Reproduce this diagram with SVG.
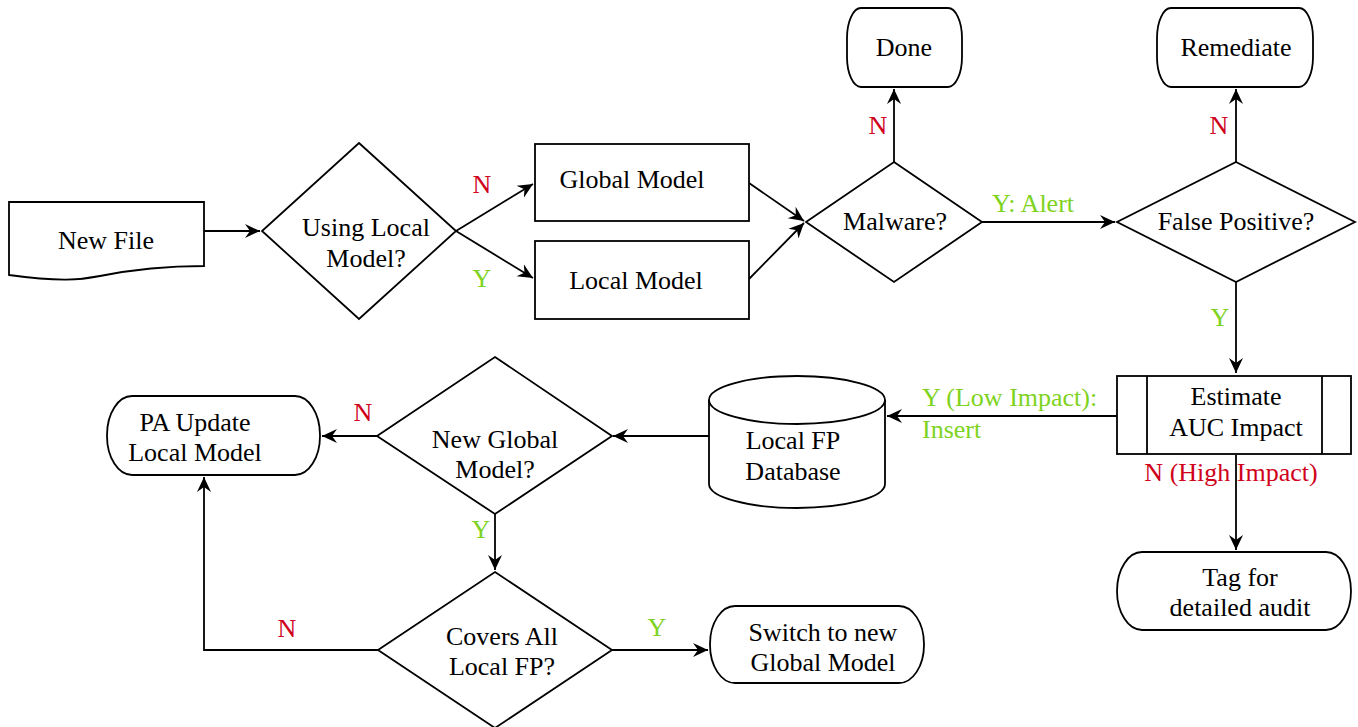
<svg xmlns="http://www.w3.org/2000/svg" width="1358" height="727" viewBox="0 0 1358 727">
<defs>
<style>
.s{fill:#fff;stroke:#000;stroke-width:1.8}
.c{fill:none;stroke:#000;stroke-width:1.8}
text{font-family:'Liberation Serif','Times New Roman',serif;font-size:26px;fill:#000;text-anchor:middle}
.r{fill:#d0021b}
.g{fill:#7ed321}
.l{text-anchor:start}
</style>
<marker id="a" viewBox="-15 -8 16 16" refX="0" refY="0" markerWidth="16" markerHeight="16" markerUnits="userSpaceOnUse" orient="auto">
<path d="M0,0 L-15,-7 L-10,0 L-15,7 Z" fill="#000"/>
</marker>
</defs>
<rect width="1358" height="727" fill="#fff"/>
<g id="connectors">
<path class="c" d="M204,231 H260" marker-end="url(#a)"/>
<path class="c" d="M456,231 L533,184" marker-end="url(#a)"/>
<path class="c" d="M456,231 L533,278" marker-end="url(#a)"/>
<path class="c" d="M749,183 L804,221" marker-end="url(#a)"/>
<path class="c" d="M749,279 L804,223" marker-end="url(#a)"/>
<path class="c" d="M894,162 V89" marker-end="url(#a)"/>
<path class="c" d="M982,222 H1115" marker-end="url(#a)"/>
<path class="c" d="M1236,162 V89" marker-end="url(#a)"/>
<path class="c" d="M1236,282 V373" marker-end="url(#a)"/>
<path class="c" d="M1236,455 V550" marker-end="url(#a)"/>
<path class="c" d="M1117,416 H887" marker-end="url(#a)"/>
<path class="c" d="M709,436 H613" marker-end="url(#a)"/>
<path class="c" d="M377,436 H322" marker-end="url(#a)"/>
<path class="c" d="M495,514 V570" marker-end="url(#a)"/>
<path class="c" d="M612,650 H708" marker-end="url(#a)"/>
<path class="c" d="M378,650 H204 V477" marker-end="url(#a)"/>
<text class="r" x="482" y="193">N</text>
<text class="g" x="482" y="287">Y</text>
<text class="r" x="878" y="134">N</text>
<text class="g" x="1033" y="212">Y: Alert</text>
<text class="r" x="1219" y="134">N</text>
<text class="g" x="1220" y="326">Y</text>
<text class="r" x="1231" y="481">N (High Impact)</text>
<text class="g l" x="922" y="406">Y (Low Impact):</text>
<text class="g l" x="922" y="438">Insert</text>
<text class="r" x="363" y="421">N</text>
<text class="g" x="481" y="538">Y</text>
<text class="r" x="287" y="637">N</text>
<text class="g" x="657" y="636">Y</text>
</g>
<g id="newfile">
<path class="s" d="M9,202 H204 V266 C160,266 130,270 100,276 C80,280 60,282 9,275 Z"/>
<text x="106" y="249">New File</text>
</g>
<g id="usinglocal">
<path class="s" d="M359,143 L456,231 L359,319 L262,231 Z"/>
<text x="366" y="236">Using Local</text>
<text x="366" y="267">Model?</text>
</g>
<g id="globalmodel">
<rect class="s" x="535" y="144" width="214" height="77"/>
<text x="632" y="188">Global Model</text>
</g>
<g id="localmodel">
<rect class="s" x="535" y="241" width="214" height="78"/>
<text x="636" y="289">Local Model</text>
</g>
<g id="malware">
<path class="s" d="M894,162 L982,222 L894,282 L806,222 Z"/>
<text x="895" y="230">Malware?</text>
</g>
<g id="done">
<rect class="s" x="847" y="8" width="115" height="79" rx="14" ry="30"/>
<text x="904" y="56">Done</text>
</g>
<g id="falsepositive">
<path class="s" d="M1236,162 L1355,222 L1236,282 L1117,222 Z"/>
<text x="1236" y="230">False Positive?</text>
</g>
<g id="remediate">
<rect class="s" x="1157" y="8" width="156" height="79" rx="14" ry="30"/>
<text x="1236" y="56">Remediate</text>
</g>
<g id="estimate">
<rect class="s" x="1117" y="376" width="234" height="78"/>
<path class="c" d="M1147,376 V454 M1322,376 V454"/>
<text x="1236" y="405">Estimate</text>
<text x="1236" y="436">AUC Impact</text>
</g>
<g id="tag">
<rect class="s" x="1117" y="552" width="234" height="78" rx="25" ry="39"/>
<text x="1240" y="586">Tag for</text>
<text x="1240" y="616">detailed audit</text>
</g>
<g id="localfp">
<path class="s" d="M709,400 V484 A88,24 0 0 0 885,484 V400"/>
<ellipse class="s" cx="797" cy="400" rx="88" ry="24"/>
<text x="793" y="449">Local FP</text>
<text x="793" y="480">Database</text>
</g>
<g id="newglobal">
<path class="s" d="M495,357 L612,436 L495,514 L377,436 Z"/>
<text x="495" y="448">New Global</text>
<text x="495" y="478">Model?</text>
</g>
<g id="paupdate">
<rect class="s" x="107" y="396" width="213" height="79" rx="25" ry="39"/>
<text x="195" y="431">PA Update</text>
<text x="195" y="461">Local Model</text>
</g>
<g id="covers">
<path class="s" d="M495,572 L612,650 L495,728 L378,650 Z"/>
<text x="502" y="645">Covers All</text>
<text x="502" y="675">Local FP?</text>
</g>
<g id="switch">
<rect class="s" x="710" y="606" width="214" height="77" rx="25" ry="38"/>
<text x="823" y="641">Switch to new</text>
<text x="823" y="671">Global Model</text>
</g>
</svg>
